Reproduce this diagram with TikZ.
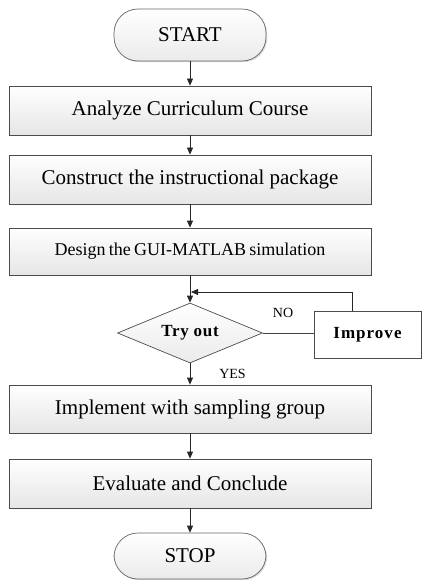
\documentclass[tikz,border=0pt]{standalone}
\usepackage{fontspec}
\setmainfont{Liberation Serif}
\usetikzlibrary{shapes.geometric,shadows,arrows.meta}

\begin{document}
\begin{tikzpicture}[x=1pt,y=-1pt,
  txt/.style={font=\fontsize{21}{25}\selectfont},
  stepbox/.style={draw=black!70,line width=0.8pt,rectangle,
    top color=white,bottom color=black!10,
    drop shadow={shadow xshift=1.2pt,shadow yshift=-1.2pt,fill=black!35},
    minimum width=362pt,inner sep=0pt,txt},
  terminal/.style={draw=black!60,line width=0.7pt,rectangle,rounded corners=24pt,
    top color=white,bottom color=black!8,
    drop shadow={shadow xshift=1.2pt,shadow yshift=-1.2pt,fill=black!30},
    minimum width=152pt,inner sep=0pt,txt},
  decision/.style={draw=black!70,line width=0.7pt,diamond,aspect=2.4,
    top color=white,bottom color=black!8,
    minimum width=145pt,minimum height=60pt,inner sep=0pt,
    font=\bfseries\fontsize{17}{20}\selectfont\addfontfeature{LetterSpace=4}},
  sidebox/.style={draw=black!70,line width=0.8pt,rectangle,fill=white,
    minimum width=107pt,minimum height=47pt,inner sep=0pt,
    font=\bfseries\fontsize{17}{20}\selectfont\addfontfeature{LetterSpace=6}},
  lbl/.style={font=\fontsize{14}{16}\selectfont},
  flow/.style={draw=black!85,line width=0.8pt,-{Triangle[length=7pt,width=6pt]}},
  link/.style={draw=black!75,line width=0.8pt}
]
\useasboundingbox (0,0) rectangle (422,580);

% main column
\node[terminal,minimum height=52pt] (start) at (190,35) {START};
\node[stepbox,minimum height=49pt] (analyze) at (190,110.5) {Analyze Curriculum Course};
\node[stepbox,minimum height=49pt] (construct) at (190,179.5) {Construct the instructional package};
\node[stepbox,minimum height=47pt,font=\fontsize{18}{22}\selectfont,
      text width=350pt,align=center] (design) at (190,251.5)
      {\spaceskip=0.18em Design the GUI-MATLAB simulation};
\node[decision] (try) at (190,333) {Try out};
\node[sidebox] (improve) at (367.5,334.5) {Improve};
\node[stepbox,minimum height=48pt] (implement) at (190,409) {Implement with sampling group};
\node[stepbox,minimum height=49pt] (evaluate) at (190,483.5) {Evaluate and Conclude};
\node[terminal,minimum height=46pt] (stop) at (190,556) {STOP};

% loop-back point above the decision
\coordinate (join) at (191,292);

% connectors
\draw[flow] (start) -- (analyze);
\draw[flow] (analyze) -- (construct);
\draw[flow] (construct) -- (design);
\draw[flow] (design) -- (try);
\draw[link] (try.east) -- (try.east -| improve.west);
\draw[flow] (improve.north -| 352,0) |- (join);
\draw[flow] (try) -- (implement);
\draw[flow] (implement) -- (evaluate);
\draw[flow] (evaluate) -- (stop);

% branch labels
\node[lbl] (no) at (283,313) {NO};
\node[lbl] (yes) at (232.5,374) {YES};
\end{tikzpicture}
\end{document}
